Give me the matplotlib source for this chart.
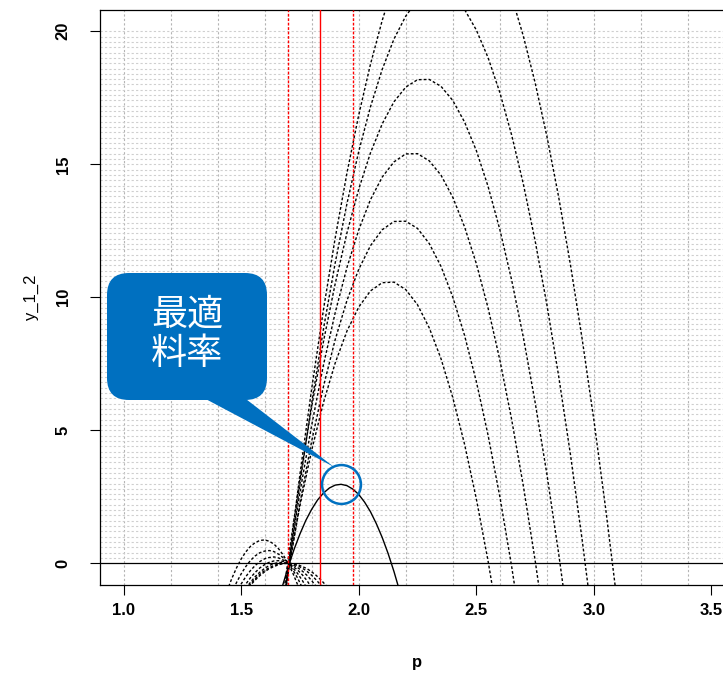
import numpy as np
import matplotlib.pyplot as plt
from matplotlib.patches import FancyBboxPatch, Polygon

plt.rcParams['font.family'] = ['Liberation Sans', 'DejaVu Sans']
plt.rcParams['lines.scale_dashes'] = False

# p の刻み（右側の曲線用）
p_grid = [1.65, 1.70, 1.75, 1.80, 1.85, 1.90, 1.95, 2.00, 2.05, 2.10,
          2.15, 2.20, 2.25, 2.30, 2.35, 2.40, 2.45, 2.50, 2.55, 2.60,
          2.65, 2.70, 2.75, 2.80, 2.85, 2.90, 2.95, 3.00, 3.05, 3.10]

# 右側の点線カーブ（p_grid の先頭から）
y_r1 = [-2.89, -0.22, 2.16, 4.25, 6.04, 7.53, 8.73, 9.63, 10.24, 10.55,
        10.57, 10.29, 9.72, 8.85, 7.69, 6.23, 4.48, 2.43, 0.09, -2.55]
y_r2 = [-3.31, -0.39, 2.25, 4.59, 6.64, 8.41, 9.88, 11.05, 11.94, 12.54,
        12.85, 12.86, 12.59, 12.02, 11.16, 10.01, 8.57, 6.84, 4.82, 2.51,
        -0.10, -2.99]
y_r3 = [-3.26, -0.16, 2.66, 5.19, 7.45, 9.42, 11.12, 12.53, 13.67, 14.52,
        15.09, 15.39, 15.40, 15.13, 14.59, 13.76, 12.65, 11.27, 9.60, 7.65,
        5.42, 2.91, 0.12, -2.95]
y_r4 = [-3.11, 0.15, 3.15, 5.88, 8.33, 10.51, 12.42, 14.06, 15.43, 16.52,
        17.35, 17.90, 18.18, 18.19, 17.93, 17.40, 16.59, 15.52, 14.17, 12.55,
        10.66, 8.50, 6.06, 3.36, 0.38, -2.87]
y_r5 = [-3.93, -0.34, 2.98, 6.02, 8.80, 11.29, 13.52, 15.48, 17.16, 18.57,
        19.71, 20.57, 21.17, 21.49, 21.54, 21.31, 20.82, 20.05, 19.01, 17.70,
        16.11, 14.26, 12.13, 9.73, 7.05, 4.11, 0.89, -2.60]
y_r6 = [-3.90, -0.15, 3.34, 6.56, 9.53, 12.23, 14.67, 16.85, 18.76, 20.41,
        21.81, 22.94, 23.80, 24.41, 24.75, 24.84, 24.66, 24.21, 23.51, 22.54,
        21.31, 19.82, 18.07, 16.06, 13.78, 11.24, 8.44, 5.38, 2.06, -1.53]

# 実線（最適）
p_solid = [1.675, 1.700, 1.725, 1.750, 1.775, 1.800, 1.825, 1.850, 1.875,
           1.900, 1.925, 1.950, 1.975, 2.000, 2.025, 2.050, 2.075, 2.100,
           2.125, 2.150, 2.175]
y_solid = [-0.88, -0.14, 0.52, 1.10, 1.61, 2.03, 2.38, 2.64, 2.83, 2.94,
           2.97, 2.92, 2.79, 2.59, 2.30, 1.94, 1.49, 0.97, 0.37, -0.31, -1.07]

# 左側の小さい山（p_left の start 番目から）
p_left = [1.44, 1.46, 1.48, 1.50, 1.52, 1.54, 1.56, 1.58, 1.60, 1.62, 1.64,
          1.66, 1.68, 1.70, 1.72, 1.74, 1.76, 1.78, 1.80, 1.82, 1.84, 1.86,
          1.88]
y_l1 = [-1.04, -0.58, -0.18, 0.16, 0.43, 0.64, 0.78, 0.86, 0.88, 0.83, 0.72,
        0.54, 0.30, 0.00, -0.37, -0.80, -1.30]
y_l2 = [-1.11, -0.73, -0.40, -0.12, 0.11, 0.28, 0.40, 0.46, 0.48, 0.44, 0.34,
        0.20, 0.00, -0.25, -0.55, -0.91]
y_l3 = [-1.11, -0.78, -0.50, -0.27, -0.08, 0.07, 0.17, 0.22, 0.24, 0.20, 0.12,
        0.00, -0.17, -0.38, -0.64, -0.94]
y_l4 = [-1.06, -0.78, -0.54, -0.34, -0.17, -0.05, 0.04, 0.09, 0.10, 0.07,
        0.00, -0.11, -0.25, -0.43, -0.65, -0.91]
y_l5 = [-0.95, -0.71, -0.50, -0.33, -0.19, -0.08, -0.01, 0.03, 0.03, 0.00,
        -0.06, -0.16, -0.29, -0.45, -0.65, -0.88]
y_l6 = [-1.00, -0.78, -0.58, -0.41, -0.27, -0.16, -0.08, -0.02, 0.00, 0.00,
        -0.03, -0.09, -0.18, -0.30, -0.45, -0.63, -0.83, -1.07]
y_l7 = [-1.04, -0.82, -0.63, -0.46, -0.32, -0.20, -0.12, -0.05, -0.01, 0.00,
        -0.01, -0.05, -0.12, -0.20, -0.32, -0.46, -0.63, -0.82, -1.04]
left_start = [0, 1, 2, 3, 4, 4, 4]

# 赤い縦線
red_dotted = [1.70, 1.977]
red_solid = [1.837]

x_ticks = [1.0, 1.5, 2.0, 2.5, 3.0, 3.5]
y_ticks = [0, 5, 10, 15, 20]
x_grid = np.arange(1.0, 3.61, 0.2)
y_grid = np.arange(0.2, 20.01, 0.2)

W, H = 723, 680
fig = plt.figure(figsize=(W / 100, H / 100), dpi=100)
# 右端は図の外まで（元画像は右が切れている）
ax = fig.add_axes([100 / W, (H - 584.6) / H, 635 / W, 574.6 / H])
ax.set_xlim(0.9, 3.6)
ax.set_ylim(-0.8, 20.8)

# グリッド
for gx in x_grid:
    ax.axvline(gx, color='#b4b4b4', lw=0.8, ls=(0, (1.6, 1.6)), zorder=1)
for gy in y_grid:
    ax.axhline(gy, color='#cfcfcf', lw=0.8, ls=(0, (1.6, 1.6)), zorder=1)

ax.axhline(0, color='black', lw=0.9, zorder=2)

dot = (0, (2.0, 1.5))
for y in [y_r1, y_r2, y_r3, y_r4, y_r5, y_r6]:
    ax.plot(p_grid[:len(y)], y, color='black', lw=1.0, ls=dot, zorder=3)
for s, y in zip(left_start, [y_l1, y_l2, y_l3, y_l4, y_l5, y_l6, y_l7]):
    ax.plot(p_left[s:s + len(y)], y, color='black', lw=1.0, ls=dot, zorder=3)
ax.plot(p_solid, y_solid, color='black', lw=1.0, zorder=3)

for rx in red_dotted:
    ax.axvline(rx, color='red', lw=1.0, ls=(0, (2.0, 1.2)), zorder=4)
for rx in red_solid:
    ax.axvline(rx, color='red', lw=1.0, zorder=4)

# 最適点の丸
i_max = int(np.argmax(y_solid))
ax.plot([p_solid[i_max]], [y_solid[i_max]], 'o', ms=28, mfc='none',
        mec='#0070C0', mew=1.8, zorder=6, clip_on=False)

ax.set_xticks(x_ticks)
ax.set_xticklabels([f'{v:.1f}' for v in x_ticks], fontweight='bold')
ax.set_yticks(y_ticks)
ax.set_yticklabels([str(v) for v in y_ticks], fontweight='bold',
                   rotation=90, va='center')
ax.tick_params(axis='x', length=7, width=0.8, pad=6, labelsize=12)
ax.tick_params(axis='y', length=7, width=0.8, pad=14, labelsize=12)
for sp in ax.spines.values():
    sp.set_linewidth(0.9)

fig.text(417.5 / W, 1 - 663 / H, 'p', ha='center', va='center',
         fontsize=12, fontweight='bold')
fig.text(31 / W, 1 - 297 / H, 'y_1_2', ha='center', va='center',
         fontsize=12, rotation=90)

# 吹き出し（ピクセル座標）
ov = fig.add_axes([0, 0, 1, 1], zorder=10)
ov.set_xlim(0, W)
ov.set_ylim(H, 0)
ov.axis('off')
ov.patch.set_alpha(0)
blue = '#0070C0'
ov.add_patch(Polygon([(200, 396), (242, 396), (334, 467)], closed=True,
                     color=blue, lw=0))
ov.add_patch(FancyBboxPatch((107, 273), 160, 127,
                            boxstyle='round,pad=0,rounding_size=22',
                            color=blue, lw=0))
ov.text(187, 334, '最適\n料率', color='white', fontsize=26,
        ha='center', va='center', linespacing=1.12,
        family=['Noto Sans CJK JP', 'DejaVu Sans'])

fig.savefig('out.png', dpi=100)
